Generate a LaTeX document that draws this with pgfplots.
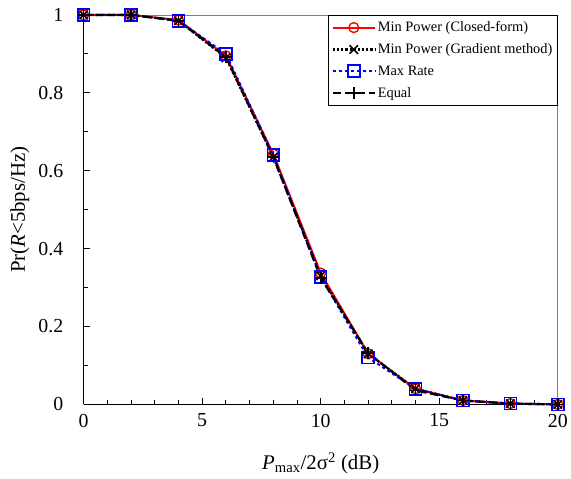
\documentclass[border=0pt]{standalone}
\usepackage{pgfplots}
\pgfplotsset{compat=1.18}
\usepackage{fontspec}
\setmainfont{Liberation Serif}
\pgfplotstableread{
x red grad maxr equal
0 1.000 1.000 1.000 1.000
2 1.000 1.000 1.000 1.000
4 0.987 0.985 0.985 0.985
6 0.895 0.890 0.900 0.892
8 0.643 0.635 0.640 0.635
10 0.337 0.330 0.327 0.325
12 0.130 0.130 0.120 0.132
14 0.040 0.040 0.040 0.036
16 0.010 0.010 0.010 0.010
18 0.002 0.002 0.002 0.002
20 0.000 0.000 0.000 0.000
}\data
\begin{document}
\begin{tikzpicture}
\begin{axis}[
  scale only axis,
  width=476bp, height=391bp,
  xmin=0, xmax=20, ymin=0, ymax=1,
  axis x line*=bottom, axis y line*=left,
  axis line style={line width=1.2pt,-},
  xtick={0,5,10,15,20}, minor x tick num=4,
  ytick={0,0.2,0.4,0.6,0.8,1}, minor y tick num=1,
  tick align=inside,
  major tick length=6pt, minor tick length=4pt,
  tick style={black, line width=0.9pt},
  /pgf/number format/assume math mode=true,
  yticklabel style={/pgf/number format/fixed},
  tick label style={font=\fontsize{20}{23}\selectfont},
  xticklabel style={yshift=-6pt},
  yticklabel style={xshift=-17pt},
  label style={font=\fontsize{21}{24}\selectfont},
  xlabel={\textit{P}\textsubscript{max}/2σ\textsuperscript{2} (dB)},
  xlabel style={at={(axis description cs:0.5,-0.151)}, anchor=center},
  ylabel={Pr(\textit{R}<5bps/Hz)},
  ylabel style={at={(axis description cs:-0.1345,0.5)}, anchor=center},
  clip=false,
  legend cell align=left,
  legend style={at={(rel axis cs:1,1)}, anchor=north east,
    draw=black, line width=0.8pt, font=\fontsize{14.5}{17}\selectfont,
    row sep=6.5pt, inner xsep=3pt, inner ysep=4.5pt},
  legend image code/.code={
    \draw[mark repeat=2,mark phase=2,#1] plot coordinates {(0bp,0bp) (21bp,0bp) (42bp,0bp)};
  },
]
\path ([xshift=-84bp,yshift=-74bp]rel axis cs:0,0) rectangle ([xshift=11bp,yshift=15bp]rel axis cs:1,1);
\draw[gray, line width=0.6pt] (rel axis cs:0,1) -- (rel axis cs:1,1) -- (rel axis cs:1,0);
\addplot[red, line width=2pt, mark=o, mark size=5pt, mark options={solid, line width=1.4pt}] table[x=x,y=red] {\data};
\addlegendentry{Min Power (Closed-form)}
\addplot[black, line width=2.2pt, dotted, mark=x, mark size=6pt, mark options={solid, line width=1.6pt}] table[x=x,y=grad] {\data};
\addlegendentry{Min Power (Gradient method)}
\addplot[blue, line width=2pt, dashed, mark=square, mark size=6pt, mark options={solid, line width=1.6pt}] table[x=x,y=maxr] {\data};
\addlegendentry{Max Rate}
\addplot[black, line width=2.2pt, dash pattern=on 8pt off 4pt, mark=+, mark size=6pt, mark options={solid, line width=1.6pt}] table[x=x,y=equal] {\data};
\addlegendentry{Equal}
\end{axis}
\end{tikzpicture}
\end{document}
